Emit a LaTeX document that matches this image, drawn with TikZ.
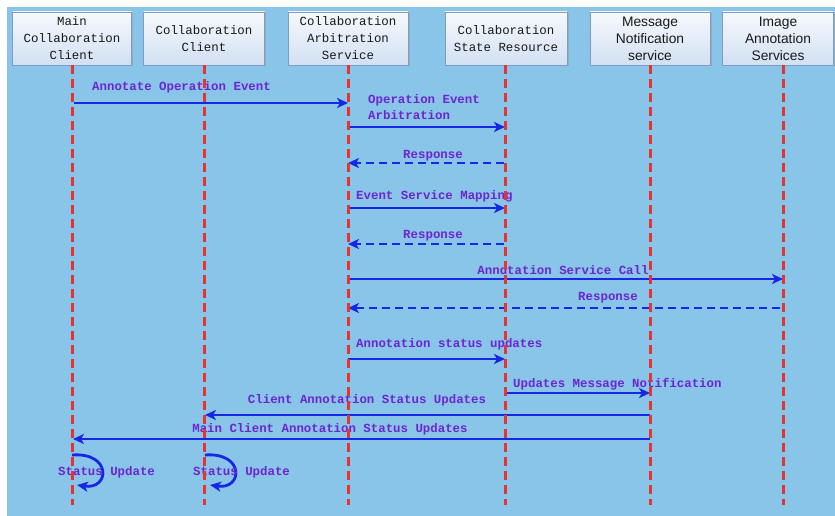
\documentclass[tikz,border=0pt]{standalone}
\usepackage{fontspec}
\newfontfamily\monof{Liberation Mono}
\newfontfamily\sansf{Liberation Sans}
\usetikzlibrary{arrows.meta,shadows}
\definecolor{bgblue}{RGB}{137,196,233}
\definecolor{boxtop}{RGB}{246,249,253}
\definecolor{boxbot}{RGB}{210,224,243}
\definecolor{boxedge}{RGB}{130,155,195}
\definecolor{lifered}{RGB}{228,52,52}
\definecolor{msgblue}{RGB}{22,40,228}
\definecolor{lblpurple}{RGB}{108,38,208}
\tikzset{
  actor/.style={draw=boxedge, line width=0.8pt, top color=boxtop, bottom color=boxbot,
    minimum height=53pt, align=center, text=black!90, inner sep=0pt,
    font=\monof\fontsize{12.4}{17}\selectfont,
    drop shadow={shadow xshift=1.5pt, shadow yshift=-1.5pt, fill=black!40, opacity=0.5}},
  sansactor/.style={actor, font=\sansf\fontsize{13.8}{17}\selectfont},
  lifeline/.style={draw=lifered, line width=3pt, dash pattern=on 9pt off 5pt},
  msg/.style={draw=msgblue, line width=2.8pt, -{Stealth[length=11pt,width=10pt,inset=3pt]}},
  reply/.style={msg, dash pattern=on 8pt off 5pt},
  lbl/.style={text=lblpurple, inner sep=0pt, font=\monof\bfseries\fontsize{12.4}{16}\selectfont}
}
\begin{document}
\begin{tikzpicture}[x=1pt,y=-1pt]
\useasboundingbox (0,0) rectangle (835,516);
\fill[bgblue] (7,7) rectangle (835,516);
% actors
\node[actor, minimum width=119pt] (A) at (72,38.5) {Main\\Collaboration\\Client};
\node[actor, minimum width=121pt] (B) at (204,38.5) {Collaboration\\Client};
\node[actor, minimum width=120pt] (C) at (348,38.5) {Collaboration\\Arbitration\\Service};
\node[actor, minimum width=122pt] (D) at (506,38.5) {Collaboration\\State Resource};
\node[sansactor, minimum width=120pt] (E) at (650,38.5) {Message\\Notification\\service};
\node[sansactor, minimum width=111pt] (F) at (778,38.5) {Image\\Annotation\\Services};
% message coordinates
\coordinate (a1) at (74,103);  \coordinate (c1) at (348,103);
\coordinate (c2) at (348,127); \coordinate (d2) at (505,127);
\coordinate (d3) at (504,163); \coordinate (c3) at (348,163);
\coordinate (c4) at (348,208); \coordinate (d4) at (505,208);
\coordinate (d5) at (504,244); \coordinate (c5) at (348,244);
\coordinate (c6) at (348,279); \coordinate (f6) at (783,279);
\coordinate (f7) at (780,308); \coordinate (c7) at (348,308);
\coordinate (c8) at (348,359); \coordinate (d8) at (505,359);
\coordinate (d9) at (505,393); \coordinate (e9) at (650,393);
\coordinate (e10) at (650,415); \coordinate (b10) at (205,415);
\coordinate (e11) at (650,439); \coordinate (a11) at (73,439);
\coordinate (a12s) at (72,455); \coordinate (a12e) at (77,485);
\coordinate (b12s) at (205,455); \coordinate (b12e) at (210,485);
% messages
\draw[msg] (a1) -- (c1);
\draw[msg] (c2) -- (d2);
\draw[reply] (d3) -- (c3);
\draw[msg] (c4) -- (d4);
\draw[reply] (d5) -- (c5);
\draw[msg] (c6) -- (f6);
\draw[reply] (f7) -- (c7);
\draw[msg] (c8) -- (d8);
\draw[msg] (d9) -- (e9);
\draw[msg] (e10) -- (b10);
\draw[msg] (e11) -- (a11);
\draw[msg] (a12s) .. controls (112,452) and (110,490) .. (a12e);
\draw[msg] (b12s) .. controls (245,452) and (243,490) .. (b12e);
% labels
\node[lbl, anchor=west] (l1) at (92,87) {Annotate Operation Event};
\node[lbl, anchor=west, align=left] (l2) at (368,107) {Operation Event\\Arbitration};
\node[lbl] (l3) at (433,156) {Response};
\node[lbl, anchor=west] (l4) at (356,196) {Event Service Mapping};
\node[lbl] (l5) at (433,236) {Response};
\node[lbl] (l6) at (563,270) {Anndtation Service Call};
\node[lbl] (l7) at (608,298) {Response};
\node[lbl, anchor=west] (l8) at (356,344) {Annotation status updates};
\node[lbl, anchor=west] (l9) at (513,384) {Updates Message Notification};
\node[lbl] (l10) at (367,400) {Client Annotation Status Updates};
\node[lbl] (l11) at (330,429) {Main Client Annotation Status Updates};
\node[lbl, anchor=west] (l12) at (58,472) {Status Update};
\node[lbl, anchor=west] (l13) at (193,472) {Status Update};
% lifelines (drawn over the messages, as in the original)
\foreach \n/\x in {A/72,B/204,C/348,D/505,E/650,F/783}{
  \coordinate (\n end) at (\x,505);
  \draw[lifeline] (\n.south) ++(0,0) coordinate (\n top) (\x,65) -- (\n end);
}
\end{tikzpicture}
\end{document}
